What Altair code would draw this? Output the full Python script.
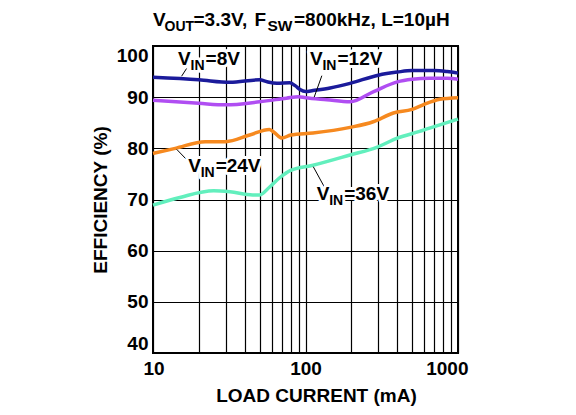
import altair as alt
import pandas as pd

# efficiency curves (load in mA, efficiency in %)
load_8v = [10, 20, 32, 50, 56, 65, 79, 86, 92, 100, 112, 145, 196, 300, 400, 500, 700, 850, 1000]
eff_8v = [93.9, 93.4, 92.9, 93.4, 93.0, 92.7, 92.8, 92.2, 91.5, 91.1, 91.3, 91.8, 92.7, 94.3, 94.9, 95.2, 95.2, 95.0, 94.7]

load_12v = [10, 20, 30, 50, 75, 90, 100, 138, 196, 280, 400, 500, 650, 850, 1000]
eff_12v = [89.4, 88.8, 88.5, 89.1, 89.8, 90.1, 89.9, 89.5, 89.1, 91.1, 93.0, 93.5, 93.7, 93.7, 93.5]

load_24v = [10, 14, 22, 30, 43, 58, 63, 70, 80, 112, 196, 278, 377, 500, 600, 760, 1000]
eff_24v = [79.0, 80.0, 81.3, 81.3, 82.6, 83.7, 83.0, 82.0, 82.6, 83.0, 84.1, 85.2, 86.9, 87.6, 88.6, 89.6, 89.9]

load_36v = [10, 15, 25, 32, 45, 50, 58, 68, 80, 112, 196, 293, 400, 560, 760, 1000]
eff_36v = [68.9, 70.4, 71.7, 71.5, 70.9, 70.9, 72.4, 74.3, 75.7, 76.7, 78.7, 80.2, 82.0, 83.3, 84.6, 85.7]

series_names = ["8V", "12V", "24V", "36V"]
series_colors = ["#1b1b9b", "#b04ef2", "#f6891f", "#62efbd"]

grid_x = [10, 20, 30, 40, 50, 60, 70, 80, 90, 100, 200, 300, 400, 500, 600, 700, 800, 900, 1000]
grid_y = [40, 50, 60, 70, 80, 90, 100]

# curve labels: anchor (start of "V", text baseline), rest of the text
label_rest = ["=8V", "=12V", "=24V", "=36V"]
label_load = [14.6, 107, 17.0, 118.4]
label_eff = [96.3, 96.3, 75.4, 69.9]

# leader lines from curve to label
leader_x1 = [15.4, 114, 14.3, 112.5]
leader_y1 = [94.1, 90.0, 79.8, 76.4]
leader_x2 = [16.6, 128, 17.5, 134.3]
leader_y2 = [95.6, 94.2, 77.1, 72.2]

FONT = "Liberation Sans"

rows = []
for name, xs, ys in zip(series_names,
                        [load_8v, load_12v, load_24v, load_36v],
                        [eff_8v, eff_12v, eff_24v, eff_36v]):
    for a, b in zip(xs, ys):
        rows.append({"series": name, "load": a, "eff": b})
df_lines = pd.DataFrame(rows)

df_labels = pd.DataFrame({"load": label_load, "eff": label_eff, "rest": label_rest})
df_leaders = pd.DataFrame({"load": leader_x1, "eff": leader_y1,
                           "load2": leader_x2, "eff2": leader_y2})

x_scale = alt.Scale(type="log", domain=[10, 1000], nice=False)
y_scale = alt.Scale(domain=[40, 100], nice=False, zero=False)

x_axis = alt.Axis(
    values=grid_x, format="d", title="LOAD CURRENT (mA)",
    labelExpr="datum.value == 10 || datum.value == 100 || datum.value == 1000 ? datum.label : ''",
    grid=True, ticks=False, domain=False, labelOverlap=False,
    labelFlush=True, labelFlushOffset=10, labelPadding=6, titlePadding=8,
    titleX=163, titleAlign="center",
)
y_axis = alt.Axis(
    values=grid_y, title="EFFICIENCY (%)", grid=True, ticks=False, domain=False,
    labelFlush=True, labelPadding=5, titlePadding=6,
)


def xenc(field="load"):
    return alt.X(f"{field}:Q", scale=x_scale, axis=x_axis)


def yenc(field="eff"):
    return alt.Y(f"{field}:Q", scale=y_scale, axis=y_axis)


lines = alt.Chart(df_lines).mark_line(strokeWidth=3.5, interpolate="monotone").encode(
    x=xenc(), y=yenc(),
    color=alt.Color("series:N", scale=alt.Scale(domain=series_names, range=series_colors), legend=None),
    detail="series:N",
)

leaders = alt.Chart(df_leaders).mark_rule(color="black", strokeWidth=1).encode(
    x=xenc(), y=yenc(), x2="load2:Q", y2="eff2:Q"
)

layers = [lines, leaders]

# label pieces: halo first, then black text
pieces = [("V", 0, 0, 19), ("IN", 12.5, 5, 14), (None, 27.5, 0, 19)]
for halo in (True, False):
    for txt, dx, dy, fs in pieces:
        style = dict(font=FONT, fontWeight="bold", fontSize=fs, align="left",
                     baseline="alphabetic", dx=dx, dy=dy)
        if halo:
            style.update(color="white", stroke="white", strokeWidth=6, strokeJoin="round")
        else:
            style.update(color="black")
        layers.append(
            alt.Chart(df_labels).mark_text(**style).encode(
                x=xenc(), y=yenc(),
                text=alt.value(txt) if txt else alt.Text("rest:N"),
            )
        )

# title with subscripts, positioned relative to the plot's top-left corner
title_pieces = [("V", 0, -20, 19), ("OUT", 11.5, -15, 14), ("=3.3V,", 40.5, -20, 19),
                ("F", 101.5, -20, 19), ("SW", 114.5, -15, 15.5),
                ("=800kHz, L=10\u00b5H", 141, -20, 19)]
for txt, px, py, fs in title_pieces:
    layers.append(
        alt.Chart(df_labels.head(1)).mark_text(
            font=FONT, fontWeight="bold", fontSize=fs, align="left",
            baseline="alphabetic", color="black",
        ).encode(x=alt.value(px), y=alt.value(py), text=alt.value(txt))
    )

chart = alt.layer(*layers).properties(
    width=305, height=307,
    autosize=alt.AutoSizeParams(type="none"),
    padding={"left": 145, "top": 38, "right": 110, "bottom": 54},
).configure_view(
    stroke="black", strokeWidth=2
).configure_axis(
    labelFont=FONT, labelFontWeight="bold", labelFontSize=19, labelColor="black",
    titleFont=FONT, titleFontWeight="bold", titleFontSize=19, titleColor="black",
    gridColor="black", gridWidth=1.2, gridOpacity=1,
)

chart.save("out.html", embed_options={"renderer": "svg", "actions": False})
